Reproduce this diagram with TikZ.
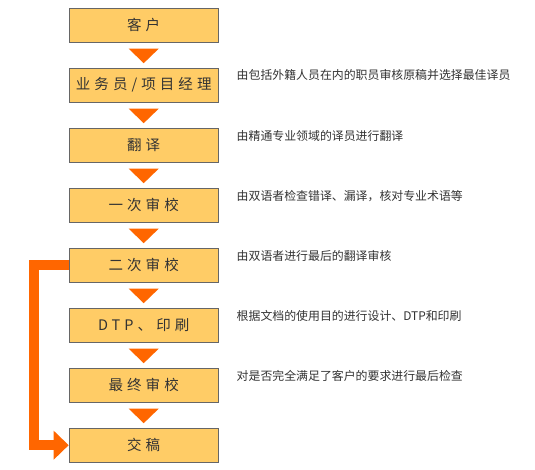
\documentclass[tikz,border=0pt]{standalone}
\usepackage{fontspec}
\usetikzlibrary{calc,arrows.meta}
\newfontfamily\boxfont[LetterSpace=28]{Noto Sans CJK SC}
\newfontfamily\descfont{Noto Sans CJK SC}
\definecolor{boxfill}{HTML}{FFCC66}
\definecolor{boxline}{HTML}{666666}
\definecolor{orangec}{HTML}{FF6600}
\definecolor{txt}{HTML}{333333}
\tikzset{
  stepbox/.style={draw=boxline, line width=1pt, fill=boxfill, minimum width=149pt, minimum height=34pt,
    inner sep=0pt, text=txt, font=\boxfont\fontsize{14.5pt}{16pt}\selectfont},
  desc/.style={anchor=west, inner sep=0pt, text=txt, font=\descfont\fontsize{11.9pt}{13pt}\selectfont},
  tri/.style={fill=orangec},
  bigarrow/.style={draw=orangec, line width=10pt, -{Triangle[width=28pt,length=15pt]}}
}
\begin{document}
\begin{tikzpicture}[x=1pt,y=-1pt]
\useasboundingbox (0,0) rectangle (535,470);
\fill[white] (0,0) rectangle (535,470);
\node[stepbox] (b1) at (143.7,25.2) {客户};
\node[stepbox] (b2) at (143.7,85.2) {业务员/项目经理};
\node[stepbox] (b3) at (143.7,145.2) {翻译};
\node[stepbox] (b4) at (143.7,205.2) {一次审校};
\node[stepbox] (b5) at (143.7,265.2) {二次审校};
\node[stepbox] (b6) at (143.7,325.2) {DTP、印刷};
\node[stepbox] (b7) at (143.7,385.2) {最终审校};
\node[stepbox] (b8) at (143.7,445.2) {交稿};
\foreach \a in {b1,b2,b3,b4,b5,b6,b7}{
  \fill[tri] ($(\a.south)+(-15,6)$) -- ($(\a.south)+(15,6)$) -- ($(\a.south)+(0,20.5)$) -- cycle;
}
\draw[bigarrow] (b5.west) -- ++(-35,0) |- (b8.west);
\node[desc] (d2) at (236.5,75) {由包括外籍人员在内的职员审核原稿并选择最佳译员};
\node[desc] (d3) at (236.5,136) {由精通专业领域的译员进行翻译};
\node[desc] (d4) at (236.5,196) {由双语者检查错译、漏译，核对专业术语等};
\node[desc] (d5) at (236.5,256) {由双语者进行最后的翻译审核};
\node[desc] (d6) at (236.5,316) {根据文档的使用目的进行设计、DTP和印刷};
\node[desc] (d7) at (236.5,376) {对是否完全满足了客户的要求进行最后检查};
\end{tikzpicture}
\end{document}
